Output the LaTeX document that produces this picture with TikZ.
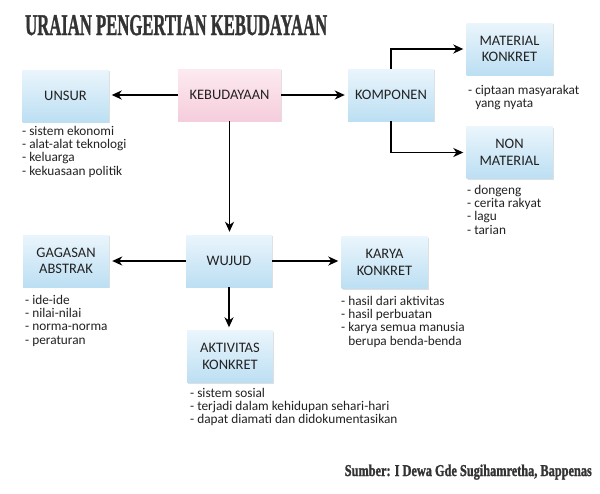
\documentclass[tikz,border=0pt]{standalone}
\usepackage{fontspec}
\usepackage{graphicx}
\setmainfont{Carlito}
\newfontfamily\titlefont[FakeBold=1.5]{Liberation Serif}
\usetikzlibrary{shadows,arrows.meta}
\definecolor{bluetop}{HTML}{EAF5FC}
\definecolor{bluebot}{HTML}{BCDFF3}
\definecolor{pinktop}{HTML}{FDEAF1}
\definecolor{pinkbot}{HTML}{F5CDDC}
\definecolor{txt}{HTML}{222222}
\definecolor{ttl}{HTML}{333333}
\begin{document}
\begin{tikzpicture}[x=1pt,y=-1pt,
 box/.style={minimum width=86pt, minimum height=52pt, inner sep=2pt, align=center,
   font=\fontsize{14.5}{16.5}\selectfont, text=txt, top color=bluetop, bottom color=bluebot,
   draw=none, drop shadow={shadow xshift=1.2pt,shadow yshift=-1.2pt,opacity=0.25}},
 pinkbox/.style={box, top color=pinktop, bottom color=pinkbot},
 lst/.style={anchor=north west, align=left, inner sep=0pt,
   font=\fontsize{13.3}{13.3}\selectfont, text=txt},
 arr/.style={-{Stealth[length=10pt,width=9pt,inset=3pt]}, line width=1.5pt, shorten >=3pt},
 ttlstyle/.style={inner sep=0pt, text=ttl}
]
\path[use as bounding box, fill=white] (0,0) rectangle (600,493);

\node[ttlstyle, anchor=base west] (title) at (25,35)
  {\resizebox{302pt}{\height}{\titlefont\fontsize{30}{30}\selectfont\bfseries URAIAN PENGERTIAN KEBUDAYAAN}};
\node[ttlstyle, anchor=base east] (src) at (592,476)
  {\resizebox{247pt}{\height}{\titlefont\fontsize{16.5}{16.5}\selectfont\bfseries Sumber: I Dewa Gde Sugihamretha, Bappenas}};

\node[box] (unsur) at (65.5,96) {UNSUR};
\node[pinkbox, minimum width=103pt] (keb) at (229.5,95) {KEBUDAYAAN};
\node[box] (komp) at (391,95) {KOMPONEN};
\node[box] (mat) at (509.5,49) {MATERIAL\\KONKRET};
\node[box] (non) at (509.5,152.5) {NON\\MATERIAL};
\node[box] (gag) at (66,261) {GAGASAN\\ABSTRAK};
\node[box] (wuj) at (229,261) {WUJUD};
\node[box] (kar) at (384.5,262.5) {KARYA\\KONKRET};
\node[box] (akt) at (230,356.5) {AKTIVITAS\\KONKRET};

\draw[arr] (keb.west) -- (keb.west -| unsur.east);
\draw[arr] (keb.east) -- (keb.east -| komp.west);
\draw[arr] (komp.north) |- (mat.west);
\draw[arr] (komp.south) |- (non.west);
\draw[arr] (keb.south) -- (keb.south |- wuj.north);
\draw[arr] (wuj.west) -- (wuj.west -| gag.east);
\draw[arr] (wuj.east) -- (wuj.east -| kar.west);
\draw[arr] (wuj.south) -- (wuj.south |- akt.north);

% y values = first baseline - 9.31 (strut height)
\node[lst] (lunsur) at (22,125.7) {\strut- sistem ekonomi\\- alat-alat teknologi\\- keluarga\\- kekuasaan politik};
\node[lst] (lmat) at (468,84.7) {\strut- ciptaan masyarakat\\\hphantom{- }yang nyata};
\node[lst] (lnon) at (467,184.7) {\strut- dongeng\\- cerita rakyat\\- lagu\\- tarian};
\node[lst] (lgag) at (25,294.7) {\strut- ide-ide\\- nilai-nilai\\- norma-norma\\- peraturan};
\node[lst] (lkar) at (341,295.7) {\strut- hasil dari aktivitas\\- hasil perbuatan\\- karya semua manusia\\\hphantom{- }berupa benda-benda};
\node[lst] (lakt) at (190,387.7) {\strut- sistem sosial\\- terjadi dalam kehidupan sehari-hari\\- dapat diamati dan didokumentasikan};
\end{tikzpicture}
\end{document}
